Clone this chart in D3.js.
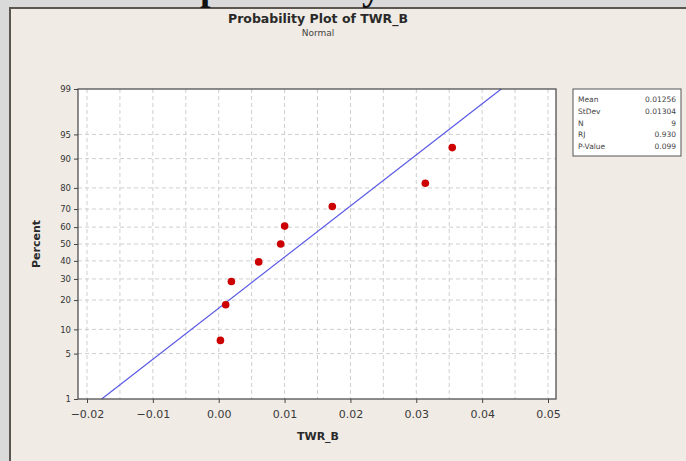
<!DOCTYPE html>
<html>
<head>
<meta charset="utf-8">
<script src="https://cdn.jsdelivr.net/npm/d3@7"></script>
<style>
  html, body { margin: 0; padding: 0; background: #dadada; }
  svg { display: block; }
</style>
</head>
<body>
<svg id="chart" width="686" height="461"></svg>
<script>
// values
const twrB = [0.00026, 0.00106, 0.00193, 0.00607, 0.00941, 0.01001, 0.01725, 0.03137, 0.03546];
const percent = [7.4, 18.1, 28.7, 39.4, 50.0, 60.6, 71.3, 81.9, 92.6];
const xTicks = [-0.02, -0.01, 0.00, 0.01, 0.02, 0.03, 0.04, 0.05];
const xGrid = [-0.02, -0.015, -0.01, -0.005, 0, 0.005, 0.01, 0.015, 0.02, 0.025, 0.03, 0.035, 0.04, 0.045, 0.05];
const yTicks = [1, 5, 10, 20, 30, 40, 50, 60, 70, 80, 90, 95, 99];
const statLabels = ["Mean", "StDev", "N", "RJ", "P-Value"];
const statValues = ["0.01256", "0.01304", "9", "0.930", "0.099"];
const fitMean = 0.01256, fitSd = 0.01304;

// inverse normal cdf (Acklam)
function probit(p) {
  var a = [-3.969683028665376e+01, 2.209460984245205e+02, -2.759285104469687e+02, 1.383577518672690e+02, -3.066479806614716e+01, 2.506628277459239e+00];
  var b = [-5.447609879822406e+01, 1.615858368580409e+02, -1.556989798598866e+02, 6.680131188771972e+01, -1.328068155288572e+01];
  var c = [-7.784894002430293e-03, -3.223964580411365e-01, -2.400758277161838e+00, -2.549671010229134e+00, 4.374664141464968e+00, 2.938163982698783e+00];
  var d = [7.784695709041462e-03, 3.224671290700398e-01, 2.445134137142996e+00, 3.754408661907416e+00];
  var pl = 0.02425, q, r;
  if (p < pl) {
    q = Math.sqrt(-2 * Math.log(p));
    return (((((c[0]*q+c[1])*q+c[2])*q+c[3])*q+c[4])*q+c[5]) / ((((d[0]*q+d[1])*q+d[2])*q+d[3])*q+1);
  }
  if (p > 1 - pl) {
    q = Math.sqrt(-2 * Math.log(1 - p));
    return -(((((c[0]*q+c[1])*q+c[2])*q+c[3])*q+c[4])*q+c[5]) / ((((d[0]*q+d[1])*q+d[2])*q+d[3])*q+1);
  }
  q = p - 0.5; r = q * q;
  return (((((a[0]*r+a[1])*r+a[2])*r+a[3])*r+a[4])*r+a[5])*q / (((((b[0]*r+b[1])*r+b[2])*r+b[3])*r+b[4])*r+1);
}

var svg = d3.select("#chart");
var font = "'DejaVu Sans', sans-serif";

// outer page bits
svg.append("rect").attr("x", 10).attr("y", 8).attr("width", 690).attr("height", 470)
  .attr("fill", "#f0ebe5").attr("stroke", "#5c5650").attr("stroke-width", 2);
svg.append("text").attr("x", 200).attr("y", 0)
  .attr("font-family", "'Liberation Serif', serif").attr("font-weight", "bold").attr("font-size", 38)
  .attr("fill", "#111").text("probability");

var plot = { left: 78, right: 556, top: 89, bottom: 399 };

var x = d3.scaleLinear().domain([-0.02, 0.05]).range([87, 548]);
var y = d3.scaleLinear().domain([probit(0.01), probit(0.99)]).range([plot.bottom, plot.top]);
var yp = function(p) { return y(probit(p / 100)); };

svg.append("rect").attr("x", plot.left).attr("y", plot.top)
  .attr("width", plot.right - plot.left).attr("height", plot.bottom - plot.top)
  .attr("fill", "#ffffff");

// grid
svg.append("g").selectAll("line").data(xGrid).enter().append("line")
  .attr("x1", d => x(d)).attr("x2", d => x(d))
  .attr("y1", plot.top).attr("y2", plot.bottom)
  .attr("stroke", "#cfcfcf").attr("stroke-dasharray", "4,3");
svg.append("g").selectAll("line").data(yTicks.slice(1, -1)).enter().append("line")
  .attr("x1", plot.left).attr("x2", plot.right)
  .attr("y1", d => yp(d)).attr("y2", d => yp(d))
  .attr("stroke", "#cfcfcf").attr("stroke-dasharray", "4,3");

// fitted line
var fit = [1, 99].map(p => [fitMean + probit(p / 100) * fitSd, p]);
svg.append("path")
  .attr("d", d3.line().x(d => x(d[0])).y(d => yp(d[1]))(fit))
  .attr("fill", "none").attr("stroke", "#5a5ae6").attr("stroke-width", 1.2);

// points
svg.append("g").selectAll("circle").data(twrB).enter().append("circle")
  .attr("cx", d => x(d)).attr("cy", (d, i) => yp(percent[i]))
  .attr("r", 3.8).attr("fill", "#cc0000");

svg.append("rect").attr("x", plot.left).attr("y", plot.top)
  .attr("width", plot.right - plot.left).attr("height", plot.bottom - plot.top)
  .attr("fill", "none").attr("stroke", "#444").attr("stroke-width", 1.2);

// axes
var xAxis = d3.axisBottom(x).tickValues(xTicks).tickFormat(d3.format(".2f")).tickSize(4).tickSizeOuter(0);
var gx = svg.append("g").attr("transform", "translate(0," + plot.bottom + ")").call(xAxis);
gx.select(".domain").remove();
gx.selectAll("text").attr("font-family", font).attr("font-size", 11).attr("fill", "#3a3a3a").attr("dy", "1.1em");
gx.selectAll("line").attr("stroke", "#444");

var yAxis = d3.axisLeft(d3.scaleLinear().domain(y.domain()).range(y.range()))
  .tickValues(yTicks.map(p => probit(p / 100))).tickFormat((d, i) => yTicks[i]).tickSize(4).tickSizeOuter(0);
var gy = svg.append("g").attr("transform", "translate(" + plot.left + ",0)").call(yAxis);
gy.select(".domain").remove();
gy.selectAll("text").attr("font-family", font).attr("font-size", 8.5).attr("fill", "#333");
gy.selectAll("line").attr("stroke", "#444");

// titles
svg.append("text").attr("x", 318).attr("y", 23).attr("text-anchor", "middle")
  .attr("font-family", font).attr("font-weight", "bold").attr("font-size", 12.5)
  .attr("fill", "#2a2a2a").text("Probability Plot of TWR_B");
svg.append("text").attr("x", 318).attr("y", 36).attr("text-anchor", "middle")
  .attr("font-family", font).attr("font-size", 9).attr("fill", "#444").text("Normal");
svg.append("text").attr("x", 318).attr("y", 440).attr("text-anchor", "middle")
  .attr("font-family", font).attr("font-weight", "bold").attr("font-size", 11)
  .attr("fill", "#2a2a2a").text("TWR_B");
svg.append("text").attr("transform", "translate(40,244) rotate(-90)").attr("text-anchor", "middle")
  .attr("font-family", font).attr("font-weight", "bold").attr("font-size", 11)
  .attr("fill", "#2a2a2a").text("Percent");

// stats box
var box = svg.append("g").attr("transform", "translate(573,89)");
box.append("rect").attr("width", 108).attr("height", 67)
  .attr("fill", "#ffffff").attr("stroke", "#555").attr("stroke-width", 1);
box.selectAll(".lab").data(statLabels).enter().append("text")
  .attr("x", 5).attr("y", (d, i) => 13 + i * 11.8)
  .attr("font-family", font).attr("font-size", 7.5).attr("fill", "#444").text(d => d);
box.selectAll(".val").data(statValues).enter().append("text")
  .attr("x", 103).attr("y", (d, i) => 13 + i * 11.8).attr("text-anchor", "end")
  .attr("font-family", font).attr("font-size", 7.5).attr("fill", "#444").text(d => d);
</script>
</body>
</html>
